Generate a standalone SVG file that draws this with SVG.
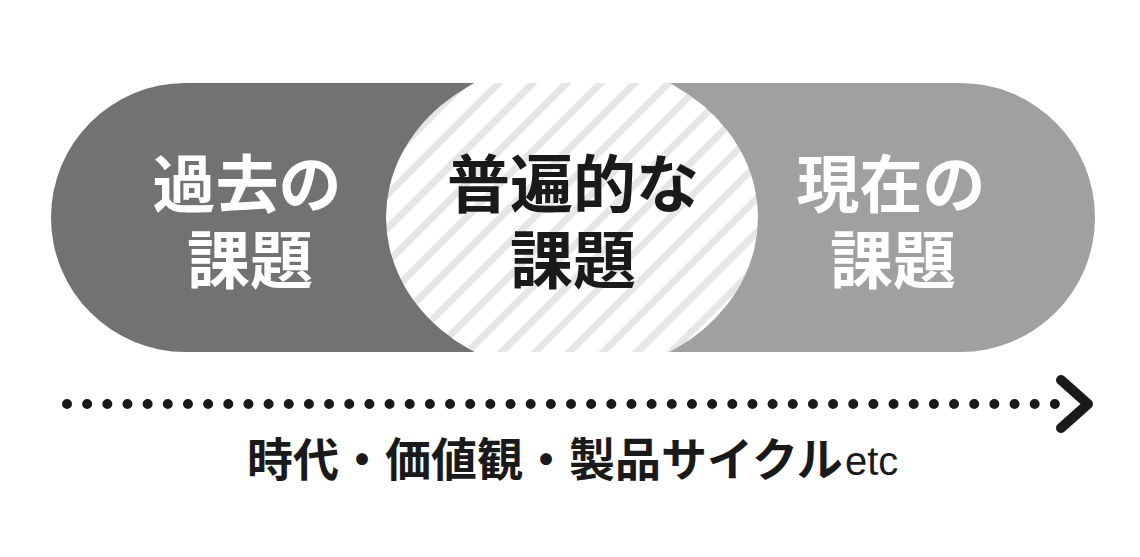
<svg xmlns="http://www.w3.org/2000/svg" width="1140" height="557" viewBox="0 0 1140 557">
<style>
.title{font-family:"Noto Sans CJK JP","Noto Sans",sans-serif;font-weight:700;font-size:63px;text-anchor:middle}
.w{fill:#ffffff}
.k{fill:#1a1a1a}
.axis{font-family:"Noto Sans CJK JP","Noto Sans",sans-serif;font-weight:700;font-size:46px;fill:#1a1a1a}
.etc{font-family:"Liberation Sans",Arial,sans-serif;font-size:40px;fill:#1a1a1a}
</style>
<defs>
<clipPath id="pillClip"><rect x="51" y="83" width="1044" height="269" rx="134.5"/></clipPath>
<pattern id="stripes" patternUnits="userSpaceOnUse" width="24" height="24" patternTransform="rotate(45)">
<rect width="24" height="24" fill="#ffffff"/>
<rect x="0" y="0" width="7" height="24" fill="#e6e6e6"/>
</pattern>
</defs>
<g id="pill" clip-path="url(#pillClip)">
<rect x="51" y="83" width="522" height="269" fill="#727272"/>
<rect x="572" y="83" width="523" height="269" fill="#a0a0a0"/>
<ellipse cx="572" cy="217.5" rx="186" ry="158" fill="url(#stripes)"/>
</g>
<g id="past">
<text class="title w"><tspan x="247" y="207">過去の</tspan><tspan x="250" y="283">課題</tspan></text>
</g>
<g id="universal">
<text class="title k"><tspan x="573" y="207">普遍的な</tspan><tspan x="573" y="283">課題</tspan></text>
</g>
<g id="present">
<text class="title w"><tspan x="891" y="207">現在の</tspan><tspan x="893" y="283">課題</tspan></text>
</g>
<g id="connectors">
<line x1="67" y1="404" x2="1055" y2="404" stroke="#1a1a1a" stroke-width="10" stroke-linecap="round" stroke-dasharray="0 20.16"/>
<polyline points="1061,380 1088,404 1061,428" fill="none" stroke="#1a1a1a" stroke-width="10" stroke-linecap="round" stroke-linejoin="round"/>
</g>
<g id="axis-label">
<text class="axis" x="247" y="476">時代・価値観・製品サイクル</text>
<text class="etc" x="845" y="475">etc</text>
</g>
</svg>
